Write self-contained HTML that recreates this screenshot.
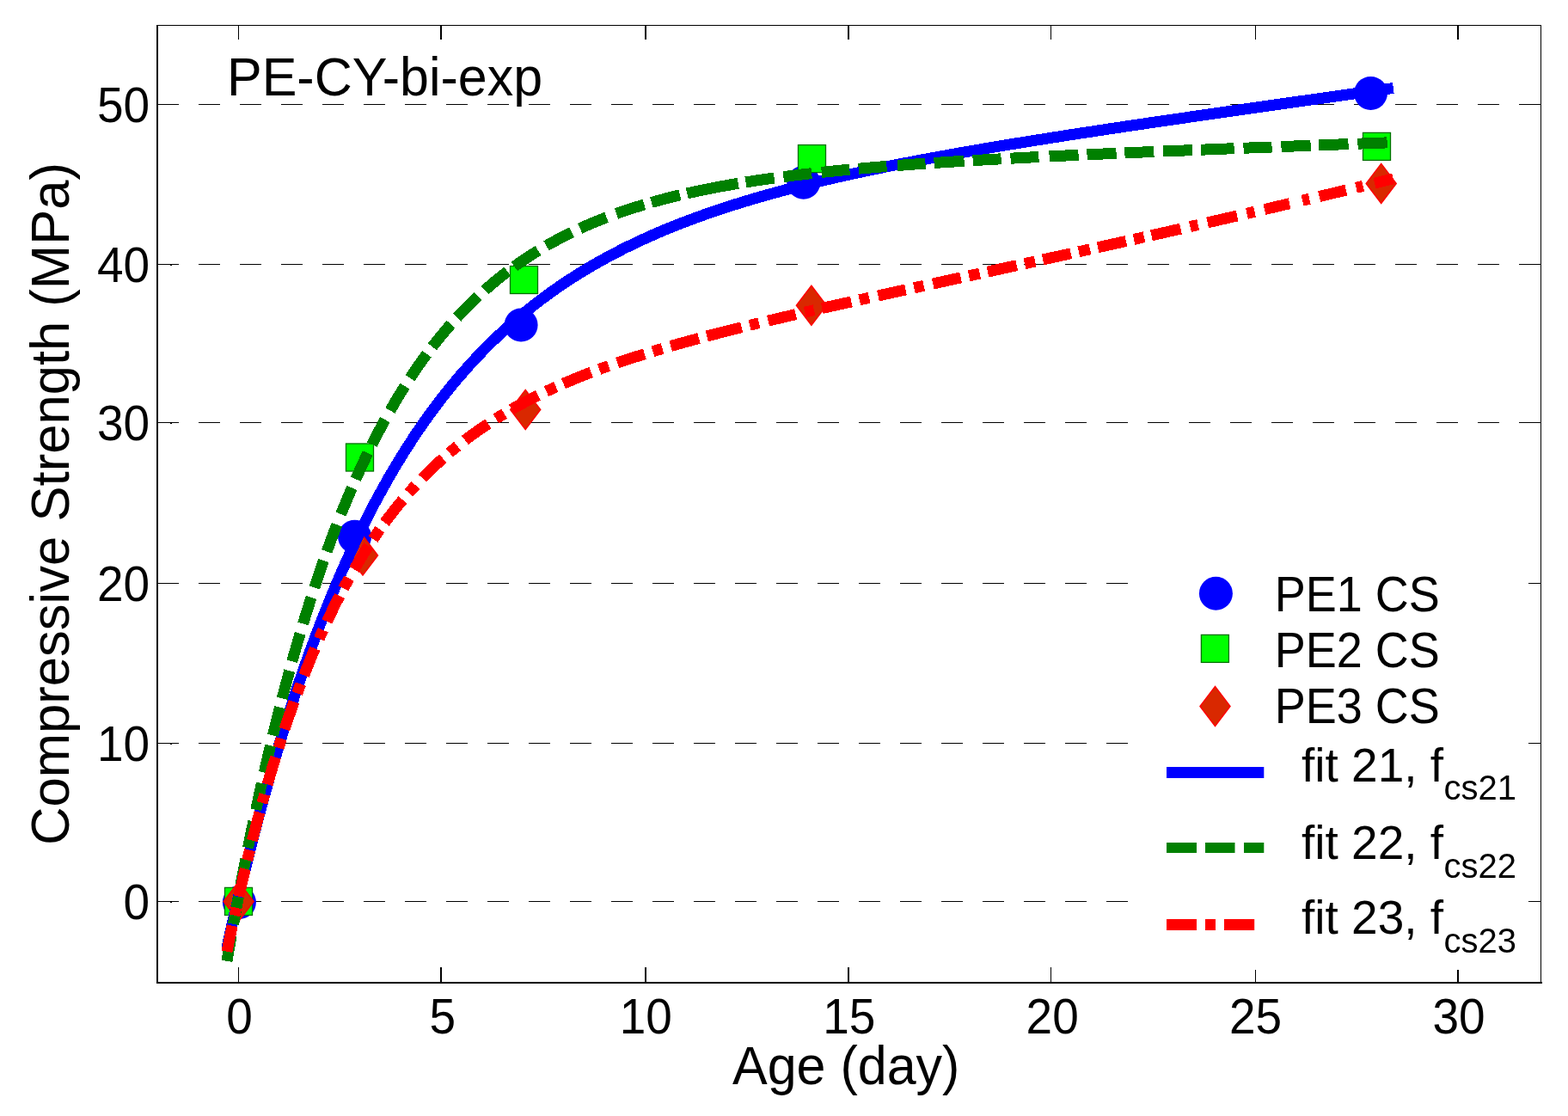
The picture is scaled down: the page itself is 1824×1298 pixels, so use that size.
<!DOCTYPE html>
<html><head><meta charset="utf-8"><title>PE-CY-bi-exp</title><style>html,body{margin:0;padding:0;background:#fff;overflow:hidden;}svg{display:block;}</style></head><body>
<svg width="1824" height="1298" viewBox="0 0 1824 1298">
<rect x="0" y="0" width="1824" height="1298" fill="#fff"/>
<g stroke="#000" stroke-width="1" stroke-dasharray="25 23" shape-rendering="crispEdges">
<line x1="182.9" y1="121.5" x2="1792" y2="121.5"/>
<line x1="182.9" y1="307.5" x2="1792" y2="307.5"/>
<line x1="182.9" y1="491.5" x2="1792" y2="491.5"/>
<line x1="182.9" y1="678.5" x2="1792" y2="678.5"/>
<line x1="182.9" y1="864.5" x2="1792" y2="864.5"/>
<line x1="182.9" y1="1048.5" x2="1792" y2="1048.5"/>
</g>
<g fill="#000" shape-rendering="crispEdges">
<rect x="277" y="1125" width="1" height="17"/>
<rect x="277" y="30" width="1" height="16"/>
<rect x="512" y="1125" width="2" height="17"/>
<rect x="512" y="30" width="2" height="16"/>
<rect x="750" y="1125" width="2" height="17"/>
<rect x="750" y="30" width="2" height="16"/>
<rect x="986" y="1125" width="2" height="17"/>
<rect x="986" y="30" width="2" height="16"/>
<rect x="1222" y="1125" width="1" height="17"/>
<rect x="1222" y="30" width="1" height="16"/>
<rect x="1460" y="1125" width="1" height="17"/>
<rect x="1460" y="30" width="1" height="16"/>
<rect x="1695" y="1125" width="2" height="17"/>
<rect x="1695" y="30" width="2" height="16"/>
<rect x="183" y="121" width="17" height="1"/>
<rect x="1775" y="121" width="17" height="1"/>
<rect x="183" y="307" width="17" height="1"/>
<rect x="198" y="308" width="2" height="1"/>
<rect x="1775" y="307" width="17" height="1"/>
<rect x="183" y="491" width="17" height="1"/>
<rect x="198" y="492" width="2" height="1"/>
<rect x="1775" y="491" width="17" height="1"/>
<rect x="183" y="678" width="17" height="1"/>
<rect x="1775" y="678" width="17" height="1"/>
<rect x="183" y="864" width="17" height="1"/>
<rect x="198" y="865" width="2" height="1"/>
<rect x="1775" y="864" width="17" height="1"/>
<rect x="183" y="1048" width="17" height="1"/>
<rect x="198" y="1049" width="2" height="1"/>
<rect x="1775" y="1048" width="17" height="1"/>
<rect x="182" y="29" width="1611" height="1"/>
<rect x="182" y="29" width="2" height="1115"/>
<rect x="1792" y="29" width="1" height="1115"/>
<rect x="182" y="1142" width="1612" height="2"/>
</g>
<g font-family="'Liberation Sans', Arial, Helvetica, sans-serif" fill="#000">
<text transform="translate(278.50 1202.00) scale(1 1.035)" font-size="55" text-anchor="middle">0</text>
<text transform="translate(514.91 1202.00) scale(1 1.035)" font-size="55" text-anchor="middle">5</text>
<text transform="translate(751.33 1202.00) scale(1 1.035)" font-size="55" text-anchor="middle">10</text>
<text transform="translate(987.75 1202.00) scale(1 1.035)" font-size="55" text-anchor="middle">15</text>
<text transform="translate(1224.16 1202.00) scale(1 1.035)" font-size="55" text-anchor="middle">20</text>
<text transform="translate(1460.58 1202.00) scale(1 1.035)" font-size="55" text-anchor="middle">25</text>
<text transform="translate(1696.99 1202.00) scale(1 1.035)" font-size="55" text-anchor="middle">30</text>
<text transform="translate(174.20 141.60) scale(1 1.035)" font-size="55" text-anchor="end">50</text>
<text transform="translate(174.20 327.60) scale(1 1.035)" font-size="55" text-anchor="end">40</text>
<text transform="translate(174.20 511.60) scale(1 1.035)" font-size="55" text-anchor="end">30</text>
<text transform="translate(174.20 698.60) scale(1 1.035)" font-size="55" text-anchor="end">20</text>
<text transform="translate(174.20 884.60) scale(1 1.035)" font-size="55" text-anchor="end">10</text>
<text transform="translate(174.20 1068.60) scale(1 1.035)" font-size="55" text-anchor="end">0</text>
<text transform="translate(852.00 1261.00) scale(1 1.040)" font-size="61">Age (day)</text>
<text font-size="61.6" text-anchor="middle" transform="translate(80.3 586) rotate(-90) scale(1 1.035)">Compressive Strength (MPa)</text>
<text transform="translate(264.00 111.00) scale(1 1.035)" font-size="61">PE-CY-bi-exp</text>
</g>
<circle cx="278.4" cy="1049.5" r="19.5" fill="#0000ff"/>
<circle cx="412.6" cy="624.2" r="19.5" fill="#0000ff"/>
<circle cx="606.1" cy="378.0" r="19.5" fill="#0000ff"/>
<circle cx="934.7" cy="212.3" r="19.5" fill="#0000ff"/>
<circle cx="1594.5" cy="108.4" r="19.5" fill="#0000ff"/>
<rect x="261.5" y="1032.4" width="32" height="32" fill="#00ff00" stroke="#007000" stroke-width="1.3"/>
<rect x="402.5" y="516.0" width="32" height="32" fill="#00ff00" stroke="#007000" stroke-width="1.3"/>
<rect x="593.5" y="309.5" width="32" height="32" fill="#00ff00" stroke="#007000" stroke-width="1.3"/>
<rect x="928.5" y="168.6" width="32" height="32" fill="#00ff00" stroke="#007000" stroke-width="1.3"/>
<rect x="1585.5" y="154.4" width="32" height="32" fill="#00ff00" stroke="#007000" stroke-width="1.3"/>
<path d="M277.6 1025.5L295.1 1048.5L277.6 1071.5L260.1 1048.5Z" fill="#d92800" stroke="#ff0000" stroke-width="1.5"/>
<path d="M422.0 623.0L439.5 646.0L422.0 669.0L404.5 646.0Z" fill="#d92800" stroke="#ff0000" stroke-width="1.5"/>
<path d="M611.2 453.4L628.7 476.4L611.2 499.4L593.7 476.4Z" fill="#d92800" stroke="#ff0000" stroke-width="1.5"/>
<path d="M943.9 332.3L961.4 355.3L943.9 378.3L926.4 355.3Z" fill="#d92800" stroke="#ff0000" stroke-width="1.5"/>
<path d="M1606.7 190.4L1624.2 213.4L1606.7 236.4L1589.2 213.4Z" fill="#d92800" stroke="#ff0000" stroke-width="1.5"/>
<path d="M263.90 1102.41 L264.34 1100.45 L264.77 1098.50 L265.20 1096.55 L265.64 1094.58 L266.07 1092.64 L266.51 1090.68 L266.95 1088.73 L267.39 1086.78 L267.83 1084.83 L268.26 1082.89 L268.71 1080.93 L269.15 1078.98 L269.59 1077.03 L270.04 1075.08 L270.48 1073.13 L270.93 1071.19 L271.37 1069.24 L271.82 1067.29 L272.27 1065.33 L272.72 1063.38 L273.18 1061.43 L273.63 1059.49 L274.08 1057.55 L274.53 1055.60 L274.99 1053.64 L275.45 1051.70 L275.90 1049.75 L276.36 1047.80 L276.82 1045.86 L277.28 1043.91 L277.74 1041.97 L278.20 1040.03 L278.67 1038.07 L279.13 1036.13 L279.60 1034.19 L280.07 1032.24 L280.53 1030.29 L281.00 1028.35 L281.47 1026.41 L281.94 1024.47 L282.41 1022.52 L282.89 1020.57 L283.36 1018.63 L283.84 1016.69 L284.31 1014.75 L284.79 1012.80 L285.27 1010.86 L285.75 1008.93 L286.23 1006.98 L286.71 1005.04 L287.20 1003.09 L287.68 1001.16 L288.16 999.23 L288.65 997.28 L289.14 995.34 L289.63 993.40 L290.12 991.46 L290.61 989.52 L291.10 987.59 L291.60 985.64 L292.09 983.71 L292.59 981.77 L293.08 979.84 L293.58 977.90 L294.08 975.96 L294.58 974.02 L295.08 972.09 L295.59 970.15 L296.09 968.21 L296.60 966.28 L297.10 964.35 L297.61 962.41 L298.12 960.48 L298.63 958.54 L299.14 956.61 L299.66 954.68 L300.17 952.75 L300.68 950.82 L301.20 948.88 L301.72 946.94 L302.24 945.01 L302.76 943.09 L303.28 941.16 L303.80 939.23 L304.33 937.30 L304.86 935.37 L305.39 933.43 L305.91 931.51 L306.44 929.58 L306.97 927.66 L307.51 925.73 L308.04 923.79 L308.58 921.87 L309.11 919.94 L309.65 918.02 L310.19 916.09 L310.73 914.17 L311.27 912.24 L311.82 910.32 L312.36 908.39 L312.91 906.47 L313.46 904.54 L314.01 902.62 L314.56 900.70 L315.11 898.77 L315.66 896.85 L316.22 894.93 L316.78 893.01 L317.33 891.10 L317.89 889.17 L318.46 887.25 L319.02 885.34 L319.58 883.41 L320.15 881.50 L320.72 879.57 L321.28 877.66 L321.85 875.75 L322.42 873.83 L323.00 871.91 L323.57 870.00 L324.15 868.08 L324.73 866.16 L325.30 864.26 L325.89 862.33 L326.47 860.43 L327.06 858.51 L327.64 856.60 L328.23 854.68 L328.82 852.78 L329.41 850.87 L330.00 848.96 L330.59 847.05 L331.19 845.13 L331.79 843.23 L332.38 841.32 L332.99 839.42 L333.59 837.50 L334.19 835.60 L334.80 833.69 L335.41 831.78 L336.01 829.88 L336.62 827.98 L337.24 826.07 L337.85 824.17 L338.47 822.26 L339.09 820.36 L339.71 818.47 L340.33 816.57 L340.95 814.66 L341.57 812.77 L342.20 810.87 L342.83 808.97 L343.46 807.07 L344.09 805.17 L344.73 803.27 L345.36 801.38 L346.00 799.48 L346.64 797.58 L347.28 795.69 L347.92 793.80 L348.57 791.90 L349.22 790.02 L349.87 788.12 L350.52 786.23 L351.17 784.34 L351.83 782.45 L352.48 780.56 L353.14 778.67 L353.80 776.78 L354.46 774.90 L355.13 773.01 L355.80 771.13 L356.47 769.24 L357.14 767.36 L357.81 765.48 L358.48 763.59 L359.16 761.71 L359.84 759.83 L360.52 757.95 L361.21 756.07 L361.89 754.19 L362.58 752.31 L363.27 750.44 L363.96 748.56 L364.66 746.68 L365.35 744.80 L366.05 742.93 L366.75 741.06 L367.45 739.19 L368.16 737.31 L368.86 735.45 L369.57 733.58 L370.28 731.71 L371.00 729.83 L371.71 727.97 L372.43 726.11 L373.15 724.23 L373.88 722.37 L374.60 720.50 L375.33 718.65 L376.06 716.78 L376.79 714.92 L377.53 713.06 L378.26 711.20 L379.00 709.34 L379.74 707.49 L380.49 705.63 L381.23 703.77 L381.98 701.92 L382.73 700.07 L383.49 698.21 L384.24 696.36 L385.00 694.51 L385.76 692.66 L386.53 690.82 L387.29 688.97 L388.06 687.12 L388.83 685.28 L389.61 683.43 L390.38 681.59 L391.16 679.74 L391.94 677.91 L392.73 676.07 L393.51 674.23 L394.30 672.39 L395.10 670.55 L395.89 668.72 L396.69 666.89 L397.49 665.05 L398.29 663.22 L399.10 661.39 L399.91 659.56 L400.72 657.73 L401.53 655.90 L402.35 654.08 L403.17 652.26 L403.99 650.43 L404.82 648.61 L405.64 646.79 L406.48 644.97 L407.31 643.15 L408.15 641.33 L408.99 639.52 L409.83 637.71 L410.67 635.89 L411.52 634.08 L412.37 632.27 L413.23 630.46 L414.08 628.66 L414.95 626.85 L415.81 625.05 L416.68 623.25 L417.54 621.45 L418.42 619.64 L419.29 617.85 L420.17 616.05 L421.06 614.26 L421.94 612.46 L422.83 610.67 L423.72 608.88 L424.61 607.09 L425.51 605.30 L426.41 603.52 L427.32 601.74 L428.23 599.95 L429.14 598.17 L430.05 596.39 L430.97 594.62 L431.89 592.84 L432.81 591.07 L433.74 589.30 L434.67 587.52 L435.60 585.76 L436.54 583.99 L437.48 582.23 L438.43 580.47 L439.38 578.70 L440.33 576.94 L441.28 575.18 L442.24 573.43 L443.20 571.68 L444.17 569.92 L445.14 568.18 L446.11 566.43 L447.09 564.68 L448.06 562.94 L449.05 561.20 L450.04 559.46 L451.03 557.72 L452.02 555.98 L453.02 554.25 L454.02 552.52 L455.03 550.79 L456.04 549.06 L457.05 547.34 L458.06 545.62 L459.09 543.90 L460.11 542.18 L461.14 540.47 L462.17 538.75 L463.21 537.04 L464.25 535.33 L465.29 533.63 L466.34 531.92 L467.39 530.22 L468.45 528.52 L469.50 526.83 L470.57 525.13 L471.63 523.44 L472.71 521.75 L473.78 520.07 L474.86 518.38 L475.95 516.70 L477.03 515.03 L478.12 513.35 L479.22 511.68 L480.32 510.00 L481.42 508.34 L482.53 506.67 L483.65 505.01 L484.76 503.35 L485.88 501.69 L487.01 500.04 L488.14 498.39 L489.27 496.74 L490.41 495.10 L491.55 493.45 L492.70 491.81 L493.85 490.18 L495.00 488.55 L496.16 486.92 L497.32 485.29 L498.49 483.67 L499.66 482.04 L500.84 480.43 L502.02 478.81 L503.21 477.20 L504.40 475.60 L505.59 473.99 L506.79 472.39 L507.99 470.79 L509.20 469.20 L510.41 467.61 L511.63 466.02 L512.85 464.44 L514.07 462.86 L515.31 461.28 L516.54 459.70 L517.78 458.14 L519.02 456.57 L520.27 455.01 L521.52 453.45 L522.78 451.89 L524.04 450.34 L525.31 448.79 L526.58 447.25 L527.86 445.71 L529.14 444.17 L530.42 442.64 L531.71 441.11 L533.01 439.59 L534.31 438.07 L535.61 436.55 L536.92 435.04 L538.23 433.53 L539.55 432.03 L540.87 430.52 L542.20 429.03 L543.53 427.53 L544.87 426.05 L546.21 424.56 L547.55 423.08 L548.90 421.61 L550.26 420.14 L551.62 418.67 L552.98 417.21 L554.35 415.75 L555.72 414.30 L557.10 412.85 L558.49 411.40 L559.87 409.96 L561.27 408.53 L562.67 407.10 L564.07 405.67 L565.47 404.25 L566.88 402.83 L568.30 401.42 L569.72 400.01 L571.15 398.61 L572.57 397.21 L574.01 395.82 L575.45 394.43 L576.89 393.04 L578.34 391.66 L579.79 390.29 L581.25 388.92 L582.71 387.56 L584.18 386.20 L585.65 384.84 L587.13 383.49 L588.61 382.15 L590.09 380.81 L591.58 379.47 L593.08 378.14 L594.58 376.82 L596.08 375.50 L597.59 374.19 L599.10 372.88 L600.61 371.57 L602.14 370.27 L603.66 368.98 L605.19 367.69 L606.73 366.41 L608.26 365.13 L609.81 363.86 L611.35 362.59 L612.91 361.33 L614.46 360.08 L616.02 358.82 L617.59 357.58 L619.16 356.34 L620.73 355.10 L622.31 353.87 L623.89 352.65 L625.47 351.43 L627.06 350.22 L628.66 349.01 L630.26 347.81 L631.86 346.61 L633.47 345.42 L635.08 344.23 L636.69 343.05 L638.31 341.87 L639.93 340.71 L641.56 339.54 L643.19 338.38 L644.82 337.23 L646.46 336.08 L648.10 334.94 L649.75 333.80 L651.40 332.67 L653.05 331.55 L654.71 330.43 L656.37 329.31 L658.03 328.20 L659.70 327.10 L661.37 326.00 L663.05 324.91 L664.73 323.83 L666.41 322.74 L668.09 321.67 L669.78 320.60 L671.48 319.53 L673.18 318.47 L674.88 317.42 L676.58 316.37 L678.28 315.33 L679.99 314.29 L681.71 313.26 L683.42 312.24 L685.14 311.21 L686.87 310.20 L688.59 309.19 L690.32 308.18 L692.06 307.18 L693.79 306.19 L695.53 305.20 L697.27 304.22 L699.02 303.24 L700.76 302.27 L702.52 301.31 L704.27 300.34 L706.03 299.39 L707.79 298.44 L709.55 297.49 L711.31 296.55 L713.08 295.62 L714.85 294.69 L716.63 293.76 L718.40 292.84 L720.18 291.93 L721.96 291.02 L723.75 290.12 L725.54 289.22 L727.32 288.32 L729.11 287.44 L730.91 286.55 L732.71 285.67 L734.50 284.80 L736.31 283.93 L738.11 283.07 L739.92 282.21 L741.73 281.36 L743.54 280.51 L745.35 279.67 L747.17 278.83 L748.99 277.99 L750.80 277.17 L752.63 276.34 L754.45 275.52 L756.28 274.71 L758.11 273.90 L759.94 273.09 L761.77 272.29 L763.61 271.50 L765.44 270.70 L767.28 269.92 L769.12 269.14 L770.96 268.36 L772.81 267.59 L774.66 266.82 L776.50 266.05 L778.35 265.29 L780.21 264.54 L782.06 263.79 L783.92 263.04 L785.77 262.30 L787.63 261.56 L789.49 260.83 L791.36 260.10 L793.22 259.38 L795.08 258.65 L796.95 257.94 L798.82 257.23 L800.69 256.52 L802.56 255.81 L804.44 255.11 L806.31 254.42 L808.19 253.73 L810.07 253.04 L811.95 252.35 L813.83 251.67 L815.71 251.00 L817.59 250.33 L819.48 249.66 L821.36 248.99 L823.25 248.33 L825.14 247.67 L827.03 247.02 L828.92 246.37 L830.81 245.72 L832.71 245.08 L834.60 244.44 L836.50 243.81 L838.40 243.18 L840.30 242.55 L842.20 241.92 L844.10 241.30 L846.00 240.69 L847.90 240.07 L849.81 239.46 L851.71 238.85 L853.62 238.25 L855.53 237.65 L857.44 237.05 L859.35 236.46 L861.26 235.87 L863.17 235.28 L865.08 234.69 L867.00 234.11 L868.91 233.53 L870.83 232.96 L872.74 232.39 L874.66 231.82 L876.58 231.25 L878.50 230.69 L880.42 230.13 L882.34 229.57 L884.26 229.02 L886.18 228.47 L888.11 227.92 L890.03 227.37 L891.95 226.83 L893.88 226.29 L895.81 225.75 L897.73 225.22 L899.66 224.69 L901.59 224.16 L903.52 223.63 L905.45 223.11 L907.38 222.59 L909.31 222.07 L911.25 221.56 L913.18 221.04 L915.11 220.53 L917.05 220.02 L918.98 219.52 L920.92 219.02 L922.85 218.51 L924.79 218.02 L926.73 217.52 L928.67 217.03 L930.60 216.54 L932.55 216.05 L934.49 215.56 L936.43 215.08 L938.37 214.59 L940.31 214.12 L942.25 213.64 L944.19 213.16 L946.13 212.69 L948.08 212.22 L950.03 211.75 L951.97 211.28 L953.91 210.82 L955.86 210.36 L957.81 209.90 L959.75 209.44 L961.70 208.98 L963.65 208.53 L965.60 208.08 L967.55 207.62 L969.49 207.18 L971.44 206.73 L973.40 206.29 L975.35 205.84 L977.30 205.40 L979.25 204.96 L981.20 204.53 L983.15 204.09 L985.10 203.66 L987.06 203.23 L989.01 202.80 L990.96 202.37 L992.92 201.94 L994.87 201.52 L996.83 201.09 L998.78 200.67 L1000.74 200.25 L1002.69 199.84 L1004.65 199.42 L1006.61 199.00 L1008.56 198.59 L1010.52 198.18 L1012.48 197.77 L1014.43 197.36 L1016.39 196.95 L1018.35 196.55 L1020.31 196.14 L1022.27 195.74 L1024.23 195.34 L1026.19 194.94 L1028.15 194.54 L1030.11 194.15 L1032.07 193.75 L1034.03 193.36 L1035.99 192.97 L1037.95 192.57 L1039.91 192.18 L1041.87 191.80 L1043.84 191.41 L1045.80 191.02 L1047.76 190.64 L1049.72 190.26 L1051.69 189.87 L1053.65 189.49 L1055.62 189.11 L1057.58 188.74 L1059.55 188.36 L1061.51 187.98 L1063.47 187.61 L1065.44 187.23 L1067.40 186.86 L1069.37 186.49 L1071.33 186.12 L1073.30 185.75 L1075.26 185.39 L1077.23 185.02 L1079.20 184.65 L1081.16 184.29 L1083.13 183.93 L1085.10 183.56 L1087.07 183.20 L1089.03 182.84 L1091.00 182.48 L1092.97 182.12 L1094.94 181.77 L1096.90 181.41 L1098.87 181.06 L1100.84 180.70 L1102.81 180.35 L1104.78 180.00 L1106.75 179.65 L1108.72 179.29 L1110.68 178.95 L1112.65 178.60 L1114.62 178.25 L1116.59 177.90 L1118.56 177.56 L1120.53 177.21 L1122.50 176.87 L1124.47 176.52 L1126.44 176.18 L1128.42 175.84 L1130.39 175.50 L1132.36 175.16 L1134.33 174.82 L1136.30 174.48 L1138.27 174.14 L1140.24 173.81 L1142.21 173.47 L1144.19 173.14 L1146.16 172.80 L1148.13 172.47 L1150.10 172.13 L1152.07 171.80 L1154.04 171.47 L1156.02 171.14 L1157.99 170.81 L1159.96 170.48 L1161.93 170.15 L1163.91 169.82 L1165.88 169.50 L1167.85 169.17 L1169.83 168.84 L1171.80 168.52 L1173.77 168.19 L1175.75 167.87 L1177.72 167.54 L1179.70 167.22 L1181.67 166.90 L1183.64 166.58 L1185.62 166.26 L1187.59 165.94 L1189.56 165.62 L1191.54 165.30 L1193.51 164.98 L1195.49 164.66 L1197.46 164.34 L1199.44 164.03 L1201.41 163.71 L1203.39 163.39 L1205.36 163.08 L1207.34 162.76 L1209.31 162.45 L1211.29 162.13 L1213.26 161.82 L1215.24 161.51 L1217.21 161.20 L1219.19 160.88 L1221.17 160.57 L1223.14 160.26 L1225.12 159.95 L1227.09 159.64 L1229.07 159.33 L1231.04 159.02 L1233.02 158.71 L1235.00 158.41 L1236.97 158.10 L1238.95 157.79 L1240.93 157.48 L1242.90 157.18 L1244.88 156.87 L1246.86 156.57 L1248.83 156.26 L1250.81 155.96 L1252.79 155.65 L1254.76 155.35 L1256.74 155.04 L1258.72 154.74 L1260.69 154.44 L1262.67 154.14 L1264.65 153.83 L1266.62 153.53 L1268.60 153.23 L1270.58 152.93 L1272.56 152.63 L1274.53 152.33 L1276.51 152.03 L1278.49 151.73 L1280.46 151.43 L1282.44 151.13 L1284.42 150.83 L1286.40 150.53 L1288.37 150.24 L1290.35 149.94 L1292.33 149.64 L1294.31 149.34 L1296.28 149.05 L1298.26 148.75 L1300.24 148.45 L1302.22 148.16 L1304.20 147.86 L1306.18 147.57 L1308.15 147.27 L1310.13 146.98 L1312.11 146.68 L1314.09 146.39 L1316.07 146.10 L1318.05 145.80 L1320.02 145.51 L1322.00 145.22 L1323.98 144.92 L1325.96 144.63 L1327.94 144.34 L1329.92 144.05 L1331.89 143.75 L1333.87 143.46 L1335.85 143.17 L1337.83 142.88 L1339.81 142.59 L1341.79 142.30 L1343.77 142.01 L1345.75 141.72 L1347.73 141.43 L1349.70 141.14 L1351.68 140.85 L1353.66 140.56 L1355.64 140.27 L1357.62 139.98 L1359.60 139.69 L1361.58 139.40 L1363.56 139.11 L1365.53 138.83 L1367.52 138.54 L1369.49 138.25 L1371.47 137.96 L1373.45 137.67 L1375.43 137.39 L1377.41 137.10 L1379.39 136.81 L1381.37 136.52 L1383.35 136.24 L1385.33 135.95 L1387.31 135.67 L1389.29 135.38 L1391.27 135.09 L1393.25 134.81 L1395.22 134.52 L1397.21 134.24 L1399.19 133.95 L1401.16 133.66 L1403.14 133.38 L1405.12 133.09 L1407.10 132.81 L1409.08 132.52 L1411.06 132.24 L1413.04 131.96 L1415.02 131.67 L1417.00 131.39 L1418.98 131.10 L1420.96 130.82 L1422.94 130.53 L1424.92 130.25 L1426.90 129.97 L1428.88 129.68 L1430.86 129.40 L1432.84 129.12 L1434.82 128.83 L1436.80 128.55 L1438.78 128.27 L1440.76 127.98 L1442.74 127.70 L1444.72 127.42 L1446.70 127.13 L1448.68 126.85 L1450.66 126.57 L1452.64 126.29 L1454.62 126.00 L1456.60 125.72 L1458.58 125.44 L1460.56 125.16 L1462.54 124.88 L1464.52 124.59 L1466.50 124.31 L1468.48 124.03 L1470.46 123.75 L1472.44 123.47 L1474.42 123.19 L1476.40 122.90 L1478.38 122.62 L1480.36 122.34 L1482.34 122.06 L1484.32 121.78 L1486.30 121.50 L1488.28 121.22 L1490.26 120.94 L1492.24 120.65 L1494.22 120.37 L1496.20 120.09 L1498.18 119.81 L1500.16 119.53 L1502.14 119.25 L1504.12 118.97 L1506.10 118.69 L1508.08 118.41 L1510.06 118.13 L1512.04 117.85 L1514.02 117.57 L1516.00 117.29 L1517.98 117.01 L1519.96 116.73 L1521.94 116.45 L1523.92 116.16 L1525.90 115.88 L1527.88 115.60 L1529.86 115.32 L1531.84 115.04 L1533.83 114.76 L1535.80 114.48 L1537.78 114.20 L1539.77 113.92 L1541.75 113.64 L1543.73 113.36 L1545.71 113.08 L1547.69 112.80 L1549.67 112.52 L1551.65 112.24 L1553.63 111.96 L1555.61 111.68 L1557.59 111.40 L1559.57 111.12 L1561.55 110.85 L1563.53 110.57 L1565.51 110.29 L1567.49 110.01 L1569.47 109.73 L1571.45 109.45 L1573.43 109.17 L1575.41 108.89 L1577.39 108.61 L1579.37 108.33 L1581.35 108.05 L1583.33 107.77 L1585.31 107.49 L1587.29 107.21 L1589.27 106.93 L1591.25 106.65 L1593.23 106.37 L1595.22 106.09 L1597.20 105.81 L1599.17 105.53 L1601.16 105.25 L1603.14 104.97 L1605.12 104.69 L1607.10 104.41 L1609.08 104.13 L1611.06 103.85 L1613.04 103.57 L1615.02 103.29 L1617.00 103.01 L1618.98 102.73 L1620.81 102.48" fill="none" stroke="#0000ff" stroke-width="13" stroke-linecap="butt" stroke-linejoin="round" shape-rendering="crispEdges"/>
<path d="M263.90 1117.79 L264.24 1115.82 L264.59 1113.84 L264.93 1111.88 L265.27 1109.91 L265.62 1107.93 L265.96 1105.96 L266.31 1103.99 L266.66 1102.02 L267.00 1100.06 L267.35 1098.08 L267.70 1096.11 L268.05 1094.14 L268.40 1092.17 L268.75 1090.21 L269.10 1088.24 L269.45 1086.27 L269.81 1084.30 L270.16 1082.34 L270.52 1080.36 L270.87 1078.39 L271.23 1076.43 L271.58 1074.46 L271.94 1072.49 L272.30 1070.53 L272.66 1068.56 L273.02 1066.58 L273.38 1064.62 L273.75 1062.65 L274.11 1060.68 L274.47 1058.72 L274.83 1056.76 L275.20 1054.79 L275.57 1052.82 L275.93 1050.85 L276.30 1048.89 L276.67 1046.92 L277.04 1044.97 L277.41 1042.99 L277.78 1041.03 L278.15 1039.07 L278.52 1037.11 L278.90 1035.14 L279.27 1033.17 L279.64 1031.21 L280.02 1029.24 L280.40 1027.28 L280.77 1025.32 L281.15 1023.35 L281.53 1021.39 L281.91 1019.42 L282.29 1017.47 L282.68 1015.50 L283.06 1013.53 L283.44 1011.57 L283.83 1009.60 L284.21 1007.65 L284.60 1005.69 L284.99 1003.73 L285.38 1001.76 L285.77 999.79 L286.16 997.83 L286.55 995.87 L286.94 993.91 L287.33 991.96 L287.73 989.98 L288.12 988.03 L288.52 986.06 L288.92 984.10 L289.31 982.15 L289.71 980.20 L290.11 978.23 L290.51 976.28 L290.91 974.31 L291.31 972.36 L291.72 970.40 L292.13 968.43 L292.53 966.48 L292.94 964.52 L293.34 962.56 L293.75 960.60 L294.16 958.65 L294.57 956.69 L294.98 954.73 L295.40 952.78 L295.81 950.82 L296.22 948.87 L296.64 946.91 L297.06 944.95 L297.47 942.99 L297.90 941.03 L298.31 939.09 L298.73 937.13 L299.16 935.17 L299.58 933.21 L300.01 931.26 L300.43 929.31 L300.86 927.35 L301.28 925.40 L301.71 923.45 L302.14 921.49 L302.57 919.54 L303.00 917.59 L303.44 915.63 L303.87 913.68 L304.31 911.73 L304.74 909.78 L305.18 907.82 L305.62 905.88 L306.06 903.92 L306.50 901.97 L306.94 900.03 L307.39 898.07 L307.83 896.12 L308.28 894.18 L308.72 892.23 L309.17 890.28 L309.62 888.32 L310.07 886.37 L310.52 884.43 L310.98 882.49 L311.43 880.54 L311.89 878.58 L312.34 876.64 L312.80 874.70 L313.26 872.74 L313.72 870.81 L314.18 868.86 L314.65 866.91 L315.11 864.96 L315.58 863.02 L316.04 861.07 L316.51 859.13 L316.98 857.19 L317.45 855.24 L317.92 853.30 L318.40 851.35 L318.87 849.41 L319.35 847.47 L319.83 845.53 L320.30 843.59 L320.79 841.64 L321.27 839.70 L321.75 837.76 L322.23 835.82 L322.72 833.88 L323.21 831.94 L323.70 830.00 L324.19 828.07 L324.68 826.12 L325.17 824.19 L325.66 822.25 L326.16 820.31 L326.66 818.37 L327.16 816.43 L327.66 814.50 L328.16 812.56 L328.66 810.63 L329.17 808.69 L329.67 806.76 L330.18 804.82 L330.69 802.89 L331.20 800.96 L331.71 799.03 L332.23 797.09 L332.74 795.16 L333.26 793.23 L333.78 791.30 L334.29 789.37 L334.82 787.43 L335.34 785.51 L335.87 783.57 L336.39 781.65 L336.92 779.71 L337.45 777.79 L337.98 775.85 L338.51 773.93 L339.05 772.01 L339.59 770.07 L340.12 768.15 L340.66 766.23 L341.20 764.30 L341.75 762.37 L342.29 760.45 L342.84 758.52 L343.39 756.61 L343.94 754.67 L344.49 752.76 L345.04 750.84 L345.60 748.92 L346.15 747.00 L346.71 745.08 L347.28 743.15 L347.84 741.24 L348.40 739.31 L348.97 737.39 L349.54 735.48 L350.11 733.57 L350.68 731.65 L351.25 729.73 L351.83 727.81 L352.41 725.90 L352.99 723.99 L353.57 722.08 L354.15 720.16 L354.74 718.25 L355.32 716.34 L355.91 714.42 L356.50 712.52 L357.10 710.61 L357.69 708.69 L358.29 706.78 L358.89 704.87 L359.49 702.97 L360.10 701.06 L360.70 699.16 L361.31 697.25 L361.92 695.35 L362.53 693.44 L363.15 691.54 L363.76 689.63 L364.38 687.74 L365.00 685.83 L365.63 683.93 L366.25 682.03 L366.88 680.13 L367.50 678.24 L368.14 676.34 L368.77 674.44 L369.41 672.55 L370.05 670.66 L370.69 668.76 L371.33 666.86 L371.98 664.97 L372.62 663.08 L373.28 661.19 L373.93 659.30 L374.58 657.40 L375.24 655.52 L375.90 653.63 L376.56 651.75 L377.23 649.86 L377.90 647.97 L378.56 646.09 L379.24 644.20 L379.91 642.33 L380.59 640.44 L381.27 638.55 L381.95 636.68 L382.64 634.80 L383.32 632.93 L384.01 631.04 L384.71 629.17 L385.40 627.30 L386.10 625.42 L386.80 623.54 L387.51 621.68 L388.21 619.81 L388.92 617.93 L389.63 616.07 L390.35 614.20 L391.07 612.33 L391.79 610.46 L392.51 608.60 L393.24 606.74 L393.96 604.87 L394.70 603.01 L395.43 601.15 L396.17 599.29 L396.91 597.44 L397.65 595.58 L398.40 593.73 L399.15 591.87 L399.90 590.02 L400.66 588.16 L401.42 586.31 L402.18 584.47 L402.94 582.61 L403.71 580.77 L404.48 578.92 L405.26 577.08 L406.03 575.24 L406.81 573.40 L407.60 571.56 L408.39 569.72 L409.18 567.88 L409.97 566.04 L410.77 564.21 L411.57 562.38 L412.37 560.54 L413.18 558.71 L413.99 556.89 L414.81 555.06 L415.62 553.24 L416.45 551.41 L417.27 549.59 L418.10 547.77 L418.93 545.96 L419.77 544.13 L420.60 542.32 L421.45 540.50 L422.29 538.69 L423.14 536.88 L424.00 535.08 L424.85 533.27 L425.72 531.46 L426.58 529.66 L427.45 527.86 L428.32 526.06 L429.20 524.26 L430.08 522.47 L430.96 520.67 L431.85 518.88 L432.74 517.09 L433.64 515.30 L434.54 513.52 L435.45 511.73 L436.35 509.95 L437.27 508.17 L438.18 506.39 L439.10 504.62 L440.03 502.84 L440.96 501.07 L441.89 499.31 L442.83 497.53 L443.77 495.77 L444.72 494.01 L445.67 492.25 L446.62 490.49 L447.58 488.74 L448.55 486.99 L449.51 485.24 L450.49 483.49 L451.46 481.75 L452.45 480.00 L453.43 478.26 L454.42 476.53 L455.42 474.79 L456.42 473.06 L457.42 471.33 L458.43 469.60 L459.45 467.88 L460.47 466.16 L461.49 464.44 L462.52 462.73 L463.55 461.01 L464.59 459.30 L465.64 457.60 L466.68 455.89 L467.74 454.19 L468.79 452.50 L469.86 450.81 L470.92 449.12 L472.00 447.42 L473.08 445.74 L474.16 444.06 L475.25 442.38 L476.35 440.71 L477.44 439.04 L478.55 437.37 L479.66 435.70 L480.77 434.05 L481.90 432.39 L483.02 430.74 L484.15 429.09 L485.29 427.44 L486.43 425.80 L487.58 424.16 L488.73 422.53 L489.89 420.90 L491.05 419.27 L492.22 417.65 L493.40 416.03 L494.58 414.42 L495.76 412.81 L496.96 411.20 L498.15 409.60 L499.36 408.00 L500.57 406.41 L501.78 404.82 L503.00 403.23 L504.23 401.66 L505.46 400.08 L506.70 398.51 L507.94 396.94 L509.19 395.38 L510.45 393.82 L511.71 392.27 L512.98 390.73 L514.25 389.18 L515.53 387.64 L516.82 386.11 L518.10 384.59 L519.40 383.06 L520.71 381.55 L522.02 380.03 L523.33 378.53 L524.65 377.03 L525.98 375.53 L527.31 374.04 L528.65 372.55 L530.00 371.08 L531.35 369.60 L532.71 368.13 L534.07 366.67 L535.44 365.21 L536.82 363.76 L538.20 362.32 L539.59 360.88 L540.99 359.44 L542.39 358.02 L543.79 356.60 L545.21 355.18 L546.62 353.77 L548.05 352.37 L549.48 350.97 L550.92 349.58 L552.36 348.20 L553.81 346.82 L555.27 345.45 L556.73 344.08 L558.20 342.72 L559.67 341.37 L561.15 340.03 L562.64 338.69 L564.13 337.36 L565.63 336.03 L567.13 334.71 L568.64 333.40 L570.16 332.10 L571.68 330.80 L573.21 329.51 L574.74 328.23 L576.28 326.95 L577.83 325.68 L579.38 324.42 L580.94 323.17 L582.50 321.92 L584.07 320.68 L585.64 319.44 L587.23 318.22 L588.81 317.00 L590.40 315.79 L592.00 314.59 L593.60 313.39 L595.21 312.20 L596.83 311.02 L598.44 309.85 L600.07 308.68 L601.70 307.52 L603.34 306.37 L604.97 305.23 L606.62 304.09 L608.27 302.96 L609.93 301.84 L611.59 300.73 L613.26 299.62 L614.93 298.53 L616.61 297.44 L618.29 296.36 L619.98 295.28 L621.67 294.22 L623.37 293.15 L625.07 292.10 L626.77 291.06 L628.49 290.02 L630.20 289.00 L631.92 287.98 L633.65 286.97 L635.38 285.96 L637.11 284.96 L638.85 283.98 L640.59 282.99 L642.34 282.02 L644.09 281.06 L645.84 280.10 L647.60 279.15 L649.37 278.20 L651.14 277.27 L652.91 276.34 L654.68 275.42 L656.46 274.51 L658.25 273.61 L660.03 272.71 L661.83 271.82 L663.62 270.94 L665.42 270.06 L667.22 269.19 L669.03 268.34 L670.84 267.48 L672.65 266.64 L674.46 265.80 L676.29 264.97 L678.11 264.15 L679.94 263.33 L681.76 262.53 L683.60 261.73 L685.43 260.93 L687.27 260.15 L689.11 259.37 L690.96 258.59 L692.81 257.83 L694.66 257.07 L696.51 256.32 L698.37 255.57 L700.23 254.84 L702.09 254.10 L703.95 253.38 L705.82 252.66 L707.69 251.95 L709.56 251.25 L711.43 250.55 L713.31 249.86 L715.19 249.18 L717.07 248.50 L718.96 247.83 L720.84 247.16 L722.73 246.51 L724.62 245.85 L726.52 245.21 L728.41 244.57 L730.31 243.93 L732.21 243.31 L734.11 242.69 L736.01 242.07 L737.92 241.46 L739.82 240.86 L741.73 240.26 L743.64 239.67 L745.55 239.08 L747.47 238.50 L749.38 237.93 L751.30 237.36 L753.22 236.80 L755.14 236.24 L757.06 235.69 L758.99 235.14 L760.91 234.60 L762.84 234.06 L764.77 233.53 L766.70 233.01 L768.63 232.49 L770.56 231.97 L772.49 231.46 L774.43 230.96 L776.37 230.46 L778.31 229.96 L780.24 229.47 L782.18 228.99 L784.12 228.51 L786.07 228.03 L788.01 227.56 L789.95 227.09 L791.90 226.63 L793.85 226.17 L795.80 225.72 L797.75 225.27 L799.70 224.83 L801.65 224.39 L803.60 223.96 L805.55 223.52 L807.51 223.10 L809.46 222.68 L811.42 222.26 L813.37 221.84 L815.33 221.43 L817.29 221.03 L819.25 220.63 L821.21 220.23 L823.17 219.83 L825.13 219.44 L827.09 219.06 L829.06 218.68 L831.02 218.30 L832.99 217.92 L834.95 217.55 L836.92 217.18 L838.88 216.82 L840.85 216.46 L842.82 216.10 L844.79 215.75 L846.75 215.40 L848.73 215.05 L850.70 214.71 L852.67 214.37 L854.64 214.03 L856.61 213.70 L858.58 213.37 L860.55 213.04 L862.53 212.71 L864.50 212.39 L866.48 212.08 L868.45 211.76 L870.43 211.45 L872.40 211.14 L874.38 210.83 L876.36 210.53 L878.33 210.23 L880.31 209.93 L882.29 209.64 L884.27 209.34 L886.25 209.06 L888.23 208.77 L890.21 208.48 L892.19 208.20 L894.17 207.92 L896.15 207.65 L898.13 207.37 L900.11 207.10 L902.09 206.83 L904.07 206.57 L906.06 206.30 L908.04 206.04 L910.02 205.78 L912.01 205.53 L913.99 205.27 L915.97 205.02 L917.96 204.77 L919.94 204.52 L921.93 204.28 L923.92 204.03 L925.90 203.79 L927.88 203.55 L929.87 203.31 L931.86 203.08 L933.84 202.85 L935.83 202.62 L937.82 202.39 L939.80 202.16 L941.79 201.93 L943.78 201.71 L945.76 201.49 L947.75 201.27 L949.74 201.05 L951.73 200.84 L953.72 200.62 L955.71 200.41 L957.70 200.20 L959.69 199.99 L961.67 199.78 L963.67 199.58 L965.65 199.37 L967.65 199.17 L969.63 198.97 L971.62 198.77 L973.62 198.58 L975.60 198.38 L977.59 198.19 L979.59 197.99 L981.58 197.80 L983.57 197.61 L985.56 197.43 L987.55 197.24 L989.54 197.05 L991.53 196.87 L993.52 196.69 L995.52 196.51 L997.51 196.33 L999.50 196.15 L1001.49 195.97 L1003.48 195.80 L1005.48 195.62 L1007.47 195.45 L1009.46 195.28 L1011.46 195.11 L1013.45 194.94 L1015.44 194.77 L1017.43 194.60 L1019.43 194.44 L1021.42 194.27 L1023.41 194.11 L1025.41 193.95 L1027.40 193.79 L1029.39 193.63 L1031.39 193.47 L1033.38 193.31 L1035.38 193.16 L1037.37 193.00 L1039.36 192.85 L1041.36 192.69 L1043.35 192.54 L1045.35 192.39 L1047.34 192.24 L1049.33 192.09 L1051.33 191.94 L1053.32 191.80 L1055.32 191.65 L1057.31 191.50 L1059.31 191.36 L1061.30 191.22 L1063.30 191.07 L1065.29 190.93 L1067.29 190.79 L1069.28 190.65 L1071.28 190.51 L1073.27 190.37 L1075.27 190.24 L1077.26 190.10 L1079.26 189.96 L1081.26 189.83 L1083.25 189.69 L1085.24 189.56 L1087.24 189.43 L1089.24 189.30 L1091.23 189.17 L1093.23 189.04 L1095.23 188.91 L1097.22 188.78 L1099.22 188.65 L1101.21 188.52 L1103.21 188.40 L1105.21 188.27 L1107.20 188.14 L1109.20 188.02 L1111.19 187.90 L1113.19 187.77 L1115.19 187.65 L1117.18 187.53 L1119.18 187.41 L1121.17 187.29 L1123.17 187.17 L1125.17 187.05 L1127.16 186.93 L1129.16 186.81 L1131.16 186.69 L1133.15 186.57 L1135.15 186.46 L1137.15 186.34 L1139.14 186.23 L1141.14 186.11 L1143.14 186.00 L1145.13 185.88 L1147.13 185.77 L1149.13 185.66 L1151.12 185.54 L1153.12 185.43 L1155.12 185.32 L1157.11 185.21 L1159.11 185.10 L1161.11 184.99 L1163.10 184.88 L1165.10 184.77 L1167.10 184.67 L1169.10 184.56 L1171.09 184.45 L1173.09 184.34 L1175.09 184.24 L1177.08 184.13 L1179.08 184.03 L1181.08 183.92 L1183.08 183.82 L1185.07 183.71 L1187.07 183.61 L1189.07 183.50 L1191.07 183.40 L1193.06 183.30 L1195.06 183.20 L1197.06 183.09 L1199.06 182.99 L1201.05 182.89 L1203.05 182.79 L1205.05 182.69 L1207.04 182.59 L1209.04 182.49 L1211.04 182.39 L1213.04 182.29 L1215.04 182.19 L1217.03 182.09 L1219.03 182.00 L1221.03 181.90 L1223.03 181.80 L1225.02 181.71 L1227.02 181.61 L1229.02 181.51 L1231.02 181.42 L1233.02 181.32 L1235.01 181.22 L1237.01 181.13 L1239.01 181.04 L1241.00 180.94 L1243.00 180.85 L1245.00 180.75 L1247.00 180.66 L1249.00 180.57 L1250.99 180.47 L1252.99 180.38 L1254.99 180.29 L1256.99 180.19 L1258.99 180.10 L1260.99 180.01 L1262.98 179.92 L1264.98 179.83 L1266.98 179.74 L1268.98 179.65 L1270.97 179.56 L1272.97 179.46 L1274.97 179.37 L1276.97 179.28 L1278.96 179.20 L1280.96 179.11 L1282.96 179.02 L1284.96 178.93 L1286.96 178.84 L1288.95 178.75 L1290.95 178.66 L1292.95 178.57 L1294.95 178.49 L1296.95 178.40 L1298.94 178.31 L1300.94 178.22 L1302.94 178.14 L1304.94 178.05 L1306.94 177.96 L1308.93 177.88 L1310.94 177.79 L1312.93 177.70 L1314.93 177.62 L1316.93 177.53 L1318.93 177.45 L1320.93 177.36 L1322.92 177.27 L1324.92 177.19 L1326.92 177.10 L1328.92 177.02 L1330.92 176.94 L1332.91 176.85 L1334.91 176.77 L1336.91 176.68 L1338.91 176.60 L1340.91 176.51 L1342.90 176.43 L1344.90 176.35 L1346.90 176.26 L1348.90 176.18 L1350.90 176.10 L1352.90 176.01 L1354.90 175.93 L1356.89 175.85 L1358.89 175.77 L1360.89 175.68 L1362.89 175.60 L1364.89 175.52 L1366.88 175.44 L1368.88 175.35 L1370.88 175.27 L1372.88 175.19 L1374.88 175.11 L1376.88 175.03 L1378.88 174.95 L1380.87 174.87 L1382.87 174.78 L1384.87 174.70 L1386.87 174.62 L1388.87 174.54 L1390.86 174.46 L1392.86 174.38 L1394.86 174.30 L1396.86 174.22 L1398.86 174.14 L1400.86 174.06 L1402.86 173.98 L1404.85 173.90 L1406.85 173.82 L1408.85 173.74 L1410.85 173.66 L1412.85 173.58 L1414.84 173.50 L1416.84 173.42 L1418.84 173.34 L1420.84 173.26 L1422.84 173.18 L1424.84 173.11 L1426.84 173.03 L1428.83 172.95 L1430.83 172.87 L1432.83 172.79 L1434.83 172.71 L1436.83 172.63 L1438.83 172.55 L1440.83 172.48 L1442.82 172.40 L1444.82 172.32 L1446.82 172.24 L1448.82 172.16 L1450.82 172.09 L1452.82 172.01 L1454.82 171.93 L1456.81 171.85 L1458.81 171.77 L1460.81 171.70 L1462.81 171.62 L1464.81 171.54 L1466.81 171.46 L1468.81 171.39 L1470.80 171.31 L1472.80 171.23 L1474.80 171.15 L1476.80 171.08 L1478.80 171.00 L1480.79 170.92 L1482.80 170.85 L1484.79 170.77 L1486.79 170.69 L1488.79 170.62 L1490.79 170.54 L1492.79 170.46 L1494.78 170.39 L1496.79 170.31 L1498.78 170.23 L1500.78 170.16 L1502.78 170.08 L1504.78 170.00 L1506.78 169.93 L1508.77 169.85 L1510.77 169.77 L1512.77 169.70 L1514.77 169.62 L1516.77 169.55 L1518.77 169.47 L1520.77 169.39 L1522.77 169.32 L1524.76 169.24 L1526.76 169.17 L1528.76 169.09 L1530.76 169.02 L1532.76 168.94 L1534.75 168.86 L1536.76 168.79 L1538.75 168.71 L1540.75 168.64 L1542.75 168.56 L1544.75 168.49 L1546.75 168.41 L1548.75 168.33 L1550.75 168.26 L1552.74 168.18 L1554.74 168.11 L1556.74 168.03 L1558.74 167.96 L1560.74 167.88 L1562.74 167.81 L1564.74 167.73 L1566.73 167.66 L1568.73 167.58 L1570.73 167.51 L1572.73 167.43 L1574.73 167.36 L1576.73 167.28 L1578.73 167.21 L1580.72 167.13 L1582.72 167.06 L1584.72 166.98 L1586.72 166.91 L1588.72 166.83 L1590.72 166.76 L1592.72 166.68 L1594.71 166.61 L1596.71 166.53 L1598.71 166.46 L1600.71 166.38 L1602.71 166.31 L1604.71 166.24 L1606.70 166.16 L1608.70 166.09 L1610.70 166.01 L1612.70 165.94 L1614.70 165.86 L1616.70 165.79 L1618.70 165.71 L1620.69 165.64 L1620.81 165.64" fill="none" stroke="#008000" stroke-width="13" stroke-linecap="butt" stroke-linejoin="round" shape-rendering="crispEdges" stroke-dasharray="30.61 13.02 32.17 13.15 31.61 13.41 31.42 13.80 31.44 12.88 32.30 12.18 33.66 10.57 33.27 11.38 33.71 11.83 32.07 12.01 33.28 11.20 33.25 13.06 33.26 11.10 33.21 11.12 32.70 12.17 33.16 11.29 34.00 10.58 34.00 10.58 34.60 10.81 34.03 9.97 33.34 10.93 33.69 10.46 33.45 12.24 34.00 8.81 34.27 8.51 60.53 8.94 33.53 10.76 33.08 11.68 32.77 10.32 32.92 12.54 32.65 10.10 35.05 10.09 33.02 10.91 32.88 12.25 34.02 9.91 34.15 9.78 34.00 10.63 34.20 9.73 38.81 10.91 33.02 10.91 34.23 9.30 34.63 10.90 34.24 57.16"/>
<path d="M263.90 1106.74 L264.31 1104.76 L264.71 1102.81 L265.12 1100.85 L265.53 1098.89 L265.93 1096.94 L266.34 1094.98 L266.75 1093.02 L267.16 1091.07 L267.58 1089.11 L267.99 1087.16 L268.41 1085.19 L268.82 1083.25 L269.24 1081.28 L269.66 1079.33 L270.08 1077.38 L270.50 1075.42 L270.93 1073.46 L271.35 1071.51 L271.77 1069.56 L272.20 1067.60 L272.63 1065.65 L273.06 1063.69 L273.49 1061.75 L273.92 1059.78 L274.35 1057.84 L274.79 1055.89 L275.22 1053.92 L275.66 1051.98 L276.10 1050.03 L276.54 1048.08 L276.98 1046.12 L277.42 1044.18 L277.86 1042.22 L278.31 1040.27 L278.75 1038.33 L279.20 1036.38 L279.65 1034.42 L280.10 1032.48 L280.55 1030.54 L281.01 1028.58 L281.46 1026.63 L281.91 1024.69 L282.37 1022.74 L282.83 1020.80 L283.29 1018.85 L283.75 1016.90 L284.21 1014.96 L284.68 1013.02 L285.15 1011.06 L285.62 1009.11 L286.08 1007.17 L286.55 1005.24 L287.03 1003.28 L287.50 1001.35 L287.97 999.41 L288.45 997.46 L288.93 995.51 L289.41 993.58 L289.89 991.63 L290.37 989.70 L290.86 987.75 L291.34 985.82 L291.83 983.87 L292.32 981.94 L292.81 979.99 L293.30 978.06 L293.79 976.13 L294.29 974.19 L294.79 972.25 L295.29 970.31 L295.79 968.37 L296.29 966.44 L296.79 964.51 L297.30 962.57 L297.81 960.63 L298.32 958.70 L298.83 956.76 L299.34 954.83 L299.86 952.89 L300.37 950.96 L300.89 949.04 L301.41 947.10 L301.93 945.18 L302.45 943.24 L302.98 941.31 L303.51 939.38 L304.04 937.45 L304.56 935.53 L305.10 933.61 L305.63 931.67 L306.17 929.75 L306.71 927.82 L307.25 925.90 L307.79 923.97 L308.34 922.04 L308.88 920.11 L309.43 918.20 L309.98 916.28 L310.53 914.35 L311.08 912.44 L311.64 910.51 L312.20 908.59 L312.76 906.67 L313.32 904.75 L313.89 902.83 L314.45 900.92 L315.02 898.99 L315.59 897.08 L316.17 895.16 L316.74 893.24 L317.32 891.33 L317.90 889.41 L318.48 887.50 L319.06 885.59 L319.65 883.68 L320.24 881.77 L320.83 879.86 L321.42 877.95 L322.02 876.03 L322.61 874.13 L323.21 872.23 L323.82 870.31 L324.42 868.41 L325.03 866.50 L325.64 864.59 L326.25 862.69 L326.86 860.79 L327.48 858.89 L328.10 856.98 L328.72 855.08 L329.34 853.18 L329.97 851.29 L330.60 849.38 L331.23 847.49 L331.86 845.59 L332.50 843.70 L333.14 841.79 L333.78 839.90 L334.42 838.01 L335.07 836.12 L335.72 834.22 L336.37 832.34 L337.03 830.45 L337.68 828.56 L338.34 826.67 L339.01 824.78 L339.67 822.90 L340.34 821.01 L341.01 819.13 L341.69 817.24 L342.36 815.37 L343.04 813.48 L343.72 811.60 L344.41 809.73 L345.10 807.85 L345.79 805.97 L346.49 804.09 L347.18 802.22 L347.88 800.34 L348.59 798.48 L349.29 796.61 L350.00 794.73 L350.72 792.86 L351.43 790.99 L352.15 789.13 L352.87 787.26 L353.60 785.41 L354.33 783.54 L355.06 781.68 L355.79 779.81 L356.53 777.96 L357.27 776.10 L358.02 774.25 L358.77 772.39 L359.52 770.54 L360.27 768.69 L361.03 766.83 L361.79 764.99 L362.56 763.14 L363.33 761.30 L364.10 759.45 L364.88 757.60 L365.66 755.76 L366.44 753.92 L367.22 752.08 L368.01 750.25 L368.81 748.41 L369.60 746.58 L370.41 744.74 L371.21 742.91 L372.02 741.09 L372.83 739.26 L373.65 737.43 L374.47 735.60 L375.30 733.78 L376.12 731.96 L376.96 730.14 L377.79 728.33 L378.63 726.51 L379.48 724.70 L380.32 722.89 L381.18 721.08 L382.03 719.27 L382.89 717.47 L383.76 715.66 L384.63 713.86 L385.50 712.07 L386.38 710.27 L387.26 708.47 L388.14 706.68 L389.03 704.89 L389.93 703.10 L390.83 701.31 L391.73 699.53 L392.64 697.74 L393.55 695.96 L394.47 694.19 L395.39 692.41 L396.32 690.64 L397.24 688.87 L398.18 687.10 L399.12 685.33 L400.06 683.57 L401.01 681.81 L401.97 680.05 L402.93 678.30 L403.89 676.54 L404.86 674.80 L405.83 673.05 L406.81 671.31 L407.79 669.56 L408.78 667.83 L409.77 666.09 L410.77 664.36 L411.77 662.62 L412.78 660.90 L413.80 659.17 L414.81 657.45 L415.84 655.73 L416.87 654.02 L417.90 652.31 L418.94 650.60 L419.98 648.89 L421.03 647.19 L422.09 645.49 L423.15 643.80 L424.22 642.10 L425.29 640.41 L426.36 638.73 L427.45 637.05 L428.54 635.37 L429.63 633.69 L430.73 632.02 L431.83 630.35 L432.94 628.69 L434.06 627.03 L435.18 625.38 L436.31 623.72 L437.44 622.07 L438.58 620.43 L439.72 618.79 L440.87 617.15 L442.03 615.52 L443.19 613.90 L444.36 612.27 L445.53 610.65 L446.71 609.04 L447.89 607.43 L449.09 605.82 L450.29 604.22 L451.49 602.62 L452.70 601.03 L453.91 599.44 L455.13 597.86 L456.36 596.28 L457.60 594.70 L458.83 593.13 L460.08 591.57 L461.33 590.01 L462.59 588.45 L463.86 586.90 L465.12 585.36 L466.40 583.82 L467.68 582.29 L468.97 580.76 L470.27 579.23 L471.57 577.71 L472.88 576.20 L474.19 574.69 L475.51 573.19 L476.83 571.69 L478.17 570.20 L479.50 568.71 L480.85 567.23 L482.20 565.76 L483.55 564.29 L484.92 562.82 L486.29 561.36 L487.66 559.91 L489.05 558.47 L490.43 557.03 L491.83 555.59 L493.23 554.17 L494.63 552.74 L496.04 551.33 L497.46 549.92 L498.89 548.51 L500.32 547.12 L501.76 545.72 L503.20 544.34 L504.65 542.96 L506.10 541.59 L507.56 540.22 L509.03 538.86 L510.51 537.51 L511.99 536.16 L513.47 534.82 L514.96 533.49 L516.46 532.16 L517.96 530.84 L519.46 529.53 L520.98 528.22 L522.50 526.92 L524.03 525.63 L525.56 524.34 L527.09 523.06 L528.64 521.79 L530.18 520.53 L531.74 519.27 L533.30 518.01 L534.86 516.77 L536.43 515.53 L538.01 514.30 L539.59 513.07 L541.18 511.86 L542.77 510.64 L544.36 509.44 L545.97 508.24 L547.57 507.05 L549.19 505.87 L550.80 504.69 L552.43 503.52 L554.05 502.36 L555.69 501.20 L557.32 500.06 L558.96 498.92 L560.61 497.78 L562.27 496.65 L563.92 495.53 L565.58 494.42 L567.25 493.31 L568.92 492.21 L570.59 491.12 L572.27 490.03 L573.96 488.95 L575.64 487.88 L577.34 486.81 L579.03 485.76 L580.73 484.70 L582.44 483.66 L584.15 482.62 L585.86 481.59 L587.58 480.56 L589.30 479.54 L591.02 478.53 L592.75 477.52 L594.49 476.53 L596.22 475.54 L597.96 474.55 L599.71 473.57 L601.46 472.60 L603.21 471.63 L604.96 470.67 L606.72 469.72 L608.48 468.77 L610.25 467.83 L612.01 466.89 L613.78 465.97 L615.56 465.04 L617.34 464.13 L619.12 463.22 L620.90 462.31 L622.69 461.41 L624.48 460.52 L626.27 459.64 L628.07 458.76 L629.87 457.88 L631.67 457.01 L633.47 456.15 L635.28 455.29 L637.09 454.44 L638.90 453.60 L640.71 452.76 L642.53 451.92 L644.35 451.09 L646.18 450.27 L648.00 449.45 L649.83 448.64 L651.66 447.83 L653.49 447.02 L655.32 446.23 L657.16 445.43 L659.00 444.65 L660.84 443.87 L662.68 443.09 L664.53 442.32 L666.37 441.55 L668.22 440.79 L670.07 440.03 L671.93 439.27 L673.78 438.53 L675.64 437.78 L677.49 437.05 L679.36 436.31 L681.22 435.58 L683.08 434.86 L684.95 434.13 L686.82 433.42 L688.68 432.71 L690.55 432.00 L692.43 431.29 L694.30 430.59 L696.18 429.90 L698.05 429.21 L699.93 428.52 L701.81 427.84 L703.69 427.16 L705.57 426.48 L707.46 425.81 L709.34 425.14 L711.23 424.48 L713.12 423.82 L715.01 423.16 L716.90 422.51 L718.79 421.86 L720.68 421.21 L722.57 420.57 L724.47 419.93 L726.37 419.30 L728.26 418.66 L730.16 418.03 L732.06 417.41 L733.96 416.79 L735.86 416.17 L737.77 415.55 L739.67 414.94 L741.57 414.33 L743.48 413.72 L745.39 413.12 L747.30 412.52 L749.20 411.92 L751.11 411.33 L753.02 410.73 L754.94 410.14 L756.85 409.56 L758.76 408.97 L760.67 408.39 L762.59 407.81 L764.50 407.24 L766.42 406.67 L768.34 406.09 L770.26 405.53 L772.17 404.96 L774.09 404.40 L776.01 403.84 L777.93 403.28 L779.85 402.72 L781.78 402.17 L783.70 401.62 L785.62 401.07 L787.54 400.52 L789.47 399.98 L791.39 399.43 L793.32 398.89 L795.24 398.35 L797.17 397.82 L799.10 397.28 L801.03 396.75 L802.95 396.22 L804.88 395.69 L806.81 395.16 L808.74 394.64 L810.67 394.12 L812.60 393.60 L814.53 393.08 L816.47 392.56 L818.40 392.04 L820.33 391.53 L822.27 391.02 L824.20 390.51 L826.13 390.00 L828.07 389.49 L830.00 388.98 L831.94 388.48 L833.87 387.98 L835.81 387.48 L837.75 386.98 L839.69 386.48 L841.62 385.98 L843.56 385.49 L845.50 384.99 L847.44 384.50 L849.37 384.01 L851.31 383.52 L853.25 383.03 L855.19 382.54 L857.13 382.06 L859.07 381.57 L861.02 381.09 L862.96 380.61 L864.90 380.13 L866.84 379.65 L868.78 379.17 L870.72 378.69 L872.66 378.21 L874.61 377.74 L876.55 377.26 L878.49 376.79 L880.44 376.32 L882.38 375.85 L884.32 375.38 L886.27 374.91 L888.22 374.44 L890.16 373.97 L892.10 373.51 L894.05 373.04 L895.99 372.58 L897.94 372.11 L899.88 371.65 L901.83 371.19 L903.78 370.73 L905.72 370.27 L907.67 369.81 L909.62 369.35 L911.56 368.89 L913.51 368.44 L915.46 367.98 L917.41 367.52 L919.35 367.07 L921.30 366.62 L923.25 366.16 L925.20 365.71 L927.14 365.26 L929.09 364.81 L931.04 364.36 L932.99 363.91 L934.94 363.46 L936.89 363.01 L938.84 362.56 L940.79 362.11 L942.74 361.67 L944.69 361.22 L946.64 360.77 L948.59 360.33 L950.53 359.88 L952.49 359.44 L954.44 359.00 L956.39 358.55 L958.34 358.11 L960.29 357.67 L962.24 357.23 L964.19 356.79 L966.14 356.34 L968.09 355.90 L970.04 355.46 L971.99 355.02 L973.94 354.59 L975.90 354.15 L977.85 353.71 L979.80 353.27 L981.75 352.83 L983.70 352.40 L985.65 351.96 L987.61 351.52 L989.56 351.09 L991.51 350.65 L993.46 350.22 L995.41 349.78 L997.36 349.35 L999.32 348.91 L1001.27 348.48 L1003.22 348.04 L1005.17 347.61 L1007.13 347.18 L1009.08 346.75 L1011.03 346.31 L1012.98 345.88 L1014.94 345.45 L1016.89 345.02 L1018.84 344.58 L1020.80 344.15 L1022.75 343.72 L1024.70 343.29 L1026.65 342.86 L1028.61 342.43 L1030.56 342.00 L1032.52 341.57 L1034.47 341.14 L1036.42 340.71 L1038.37 340.28 L1040.33 339.85 L1042.28 339.42 L1044.23 338.99 L1046.19 338.56 L1048.14 338.13 L1050.09 337.70 L1052.05 337.27 L1054.00 336.85 L1055.96 336.42 L1057.91 335.99 L1059.86 335.56 L1061.81 335.13 L1063.77 334.70 L1065.72 334.28 L1067.68 333.85 L1069.63 333.42 L1071.58 332.99 L1073.54 332.57 L1075.49 332.14 L1077.45 331.71 L1079.40 331.28 L1081.35 330.86 L1083.31 330.43 L1085.26 330.00 L1087.22 329.57 L1089.17 329.15 L1091.12 328.72 L1093.08 328.29 L1095.03 327.87 L1096.99 327.44 L1098.94 327.01 L1100.89 326.59 L1102.85 326.16 L1104.80 325.73 L1106.76 325.30 L1108.71 324.88 L1110.66 324.45 L1112.62 324.02 L1114.57 323.60 L1116.52 323.17 L1118.48 322.74 L1120.43 322.32 L1122.38 321.89 L1124.34 321.46 L1126.29 321.04 L1128.25 320.61 L1130.20 320.18 L1132.15 319.76 L1134.11 319.33 L1136.06 318.90 L1138.02 318.47 L1139.97 318.05 L1141.92 317.62 L1143.88 317.19 L1145.83 316.77 L1147.78 316.34 L1149.74 315.91 L1151.69 315.48 L1153.65 315.06 L1155.60 314.63 L1157.55 314.20 L1159.51 313.77 L1161.46 313.34 L1163.42 312.92 L1165.37 312.49 L1167.32 312.06 L1169.27 311.63 L1171.23 311.21 L1173.18 310.78 L1175.14 310.35 L1177.09 309.92 L1179.04 309.49 L1181.00 309.06 L1182.95 308.63 L1184.91 308.20 L1186.86 307.78 L1188.81 307.35 L1190.76 306.92 L1192.72 306.49 L1194.67 306.06 L1196.63 305.63 L1198.58 305.20 L1200.53 304.77 L1202.49 304.34 L1204.44 303.91 L1206.39 303.48 L1208.34 303.05 L1210.30 302.62 L1212.25 302.19 L1214.21 301.76 L1216.16 301.33 L1218.11 300.90 L1220.06 300.47 L1222.02 300.04 L1223.97 299.61 L1225.92 299.17 L1227.88 298.74 L1229.83 298.31 L1231.78 297.88 L1233.73 297.45 L1235.69 297.02 L1237.64 296.58 L1239.59 296.15 L1241.54 295.72 L1243.50 295.29 L1245.45 294.85 L1247.40 294.42 L1249.36 293.99 L1251.31 293.56 L1253.26 293.12 L1255.21 292.69 L1257.17 292.25 L1259.12 291.82 L1261.07 291.39 L1263.02 290.95 L1264.97 290.52 L1266.93 290.08 L1268.88 289.65 L1270.83 289.21 L1272.78 288.78 L1274.74 288.34 L1276.69 287.91 L1278.64 287.47 L1280.59 287.04 L1282.54 286.60 L1284.50 286.17 L1286.45 285.73 L1288.40 285.30 L1290.35 284.86 L1292.30 284.42 L1294.25 283.99 L1296.21 283.55 L1298.16 283.11 L1300.11 282.67 L1302.06 282.24 L1304.01 281.80 L1305.96 281.36 L1307.92 280.92 L1309.87 280.48 L1311.82 280.05 L1313.77 279.61 L1315.72 279.17 L1317.67 278.73 L1319.62 278.29 L1321.57 277.85 L1323.52 277.41 L1325.48 276.97 L1327.43 276.53 L1329.38 276.09 L1331.33 275.65 L1333.28 275.21 L1335.23 274.77 L1337.18 274.33 L1339.13 273.89 L1341.08 273.45 L1343.03 273.01 L1344.98 272.56 L1346.93 272.12 L1348.89 271.68 L1350.84 271.24 L1352.79 270.80 L1354.74 270.35 L1356.69 269.91 L1358.64 269.47 L1360.59 269.02 L1362.54 268.58 L1364.49 268.14 L1366.44 267.69 L1368.39 267.25 L1370.34 266.80 L1372.29 266.36 L1374.24 265.92 L1376.19 265.47 L1378.14 265.03 L1380.09 264.58 L1382.04 264.13 L1383.99 263.69 L1385.94 263.24 L1387.89 262.80 L1389.84 262.35 L1391.79 261.90 L1393.73 261.46 L1395.69 261.01 L1397.64 260.56 L1399.58 260.12 L1401.53 259.67 L1403.48 259.22 L1405.43 258.77 L1407.38 258.32 L1409.33 257.87 L1411.28 257.43 L1413.23 256.98 L1415.18 256.53 L1417.12 256.08 L1419.08 255.63 L1421.02 255.18 L1422.97 254.73 L1424.92 254.28 L1426.87 253.83 L1428.82 253.38 L1430.76 252.93 L1432.72 252.48 L1434.66 252.02 L1436.61 251.57 L1438.56 251.12 L1440.51 250.67 L1442.45 250.22 L1444.41 249.76 L1446.35 249.31 L1448.30 248.86 L1450.25 248.41 L1452.20 247.95 L1454.14 247.50 L1456.09 247.04 L1458.04 246.59 L1459.99 246.14 L1461.94 245.68 L1463.88 245.23 L1465.83 244.77 L1467.78 244.32 L1469.73 243.86 L1471.67 243.41 L1473.62 242.95 L1475.57 242.49 L1477.51 242.04 L1479.46 241.58 L1481.41 241.12 L1483.36 240.67 L1485.30 240.21 L1487.25 239.75 L1489.20 239.30 L1491.14 238.84 L1493.09 238.38 L1495.04 237.92 L1496.99 237.46 L1498.93 237.00 L1500.88 236.54 L1502.82 236.08 L1504.77 235.62 L1506.72 235.17 L1508.66 234.71 L1510.61 234.25 L1512.56 233.78 L1514.50 233.32 L1516.45 232.86 L1518.39 232.40 L1520.34 231.94 L1522.28 231.48 L1524.23 231.02 L1526.18 230.55 L1528.12 230.09 L1530.07 229.63 L1532.01 229.17 L1533.96 228.70 L1535.90 228.24 L1537.85 227.78 L1539.80 227.31 L1541.74 226.85 L1543.69 226.38 L1545.63 225.92 L1547.58 225.46 L1549.52 224.99 L1551.47 224.52 L1553.41 224.06 L1555.36 223.59 L1557.30 223.13 L1559.25 222.66 L1561.19 222.19 L1563.14 221.73 L1565.08 221.26 L1567.03 220.79 L1568.97 220.33 L1570.92 219.86 L1572.86 219.39 L1574.81 218.92 L1576.75 218.45 L1578.69 217.99 L1580.64 217.52 L1582.58 217.05 L1584.53 216.58 L1586.47 216.11 L1588.41 215.64 L1590.36 215.17 L1592.30 214.70 L1594.25 214.23 L1596.19 213.76 L1598.14 213.29 L1600.08 212.81 L1602.02 212.34 L1603.96 211.87 L1605.91 211.40 L1607.85 210.93 L1609.80 210.45 L1611.74 209.98 L1613.68 209.51 L1615.63 209.04 L1617.57 208.56 L1619.51 208.09 L1620.81 207.77" fill="none" stroke="#ff0000" stroke-width="13" stroke-linecap="butt" stroke-linejoin="round" shape-rendering="crispEdges" stroke-dasharray="30.73 12.24 9.21 13.48 32.90 10.36 12.24 11.23 33.90 11.43 10.38 12.03 33.06 11.30 11.27 11.53 33.80 10.48 11.58 10.79 33.79 12.39 11.05 10.86 33.15 9.90 13.38 11.97 32.18 9.38 13.76 9.59 33.85 10.85 11.79 11.36 33.17 10.15 12.10 11.10 33.06 10.76 11.41 9.72 34.80 10.77 12.40 9.45 34.82 10.11 11.59 10.77 33.32 9.99 11.59 10.16 33.99 9.60 41.61 9.80 11.11 10.88 33.02 10.81 11.10 9.53 34.95 9.67 11.52 10.63 32.83 10.02 11.58 10.87 33.18 9.67 12.89 9.47 34.61 9.42 12.45 9.22 33.44 9.28 13.48 9.34 33.68 9.25 12.28 8.71 34.88 11.26 9.54 11.19 35.38 11.65 9.29 11.76 29.92 15.40 8.33 11.83 32.06 11.97 8.28 13.85 22.41 50.00"/>
<rect x="1325" y="620" width="453" height="508" fill="#fff"/>
<circle cx="1414.4" cy="690.2" r="19.5" fill="#0000ff"/>
<rect x="1397.4" y="738.4" width="32" height="32" fill="#00ff00" stroke="#007000" stroke-width="1.3"/>
<path d="M1413.5 798.4L1431.0 821.4L1413.5 844.4L1396.0 821.4Z" fill="#d92800" stroke="#ff0000" stroke-width="1.5"/>
<rect x="1357" y="892" width="113.3" height="13" fill="#0000ff"/>
<g fill="#008000"><rect x="1357" y="980" width="35" height="12"/><rect x="1402" y="980" width="34.5" height="12"/><rect x="1447" y="980" width="23.3" height="12"/></g>
<g fill="#ff0000"><rect x="1357" y="1069" width="35" height="13"/><rect x="1402" y="1069" width="12" height="13"/><rect x="1424" y="1069" width="35.2" height="13"/></g>
<g font-family="'Liberation Sans', Arial, Helvetica, sans-serif" fill="#000">
<text transform="translate(1482.70 711.00) scale(1 1.060)" font-size="54">PE1 CS</text>
<text transform="translate(1482.70 776.00) scale(1 1.060)" font-size="54">PE2 CS</text>
<text transform="translate(1482.70 841.00) scale(1 1.060)" font-size="54">PE3 CS</text>
<text transform="translate(1514.00 909.10) scale(1 1.000)" font-size="55">fit 21, f</text>
<text transform="translate(1679.50 929.80) scale(1 1.020)" font-size="40">cs21</text>
<text transform="translate(1514.00 999.10) scale(1 1.000)" font-size="55">fit 22, f</text>
<text transform="translate(1679.50 1020.60) scale(1 1.020)" font-size="40">cs22</text>
<text transform="translate(1514.00 1086.00) scale(1 1.000)" font-size="55">fit 23, f</text>
<text transform="translate(1679.50 1107.90) scale(1 1.020)" font-size="40">cs23</text>
</g>
</svg></body></html>
